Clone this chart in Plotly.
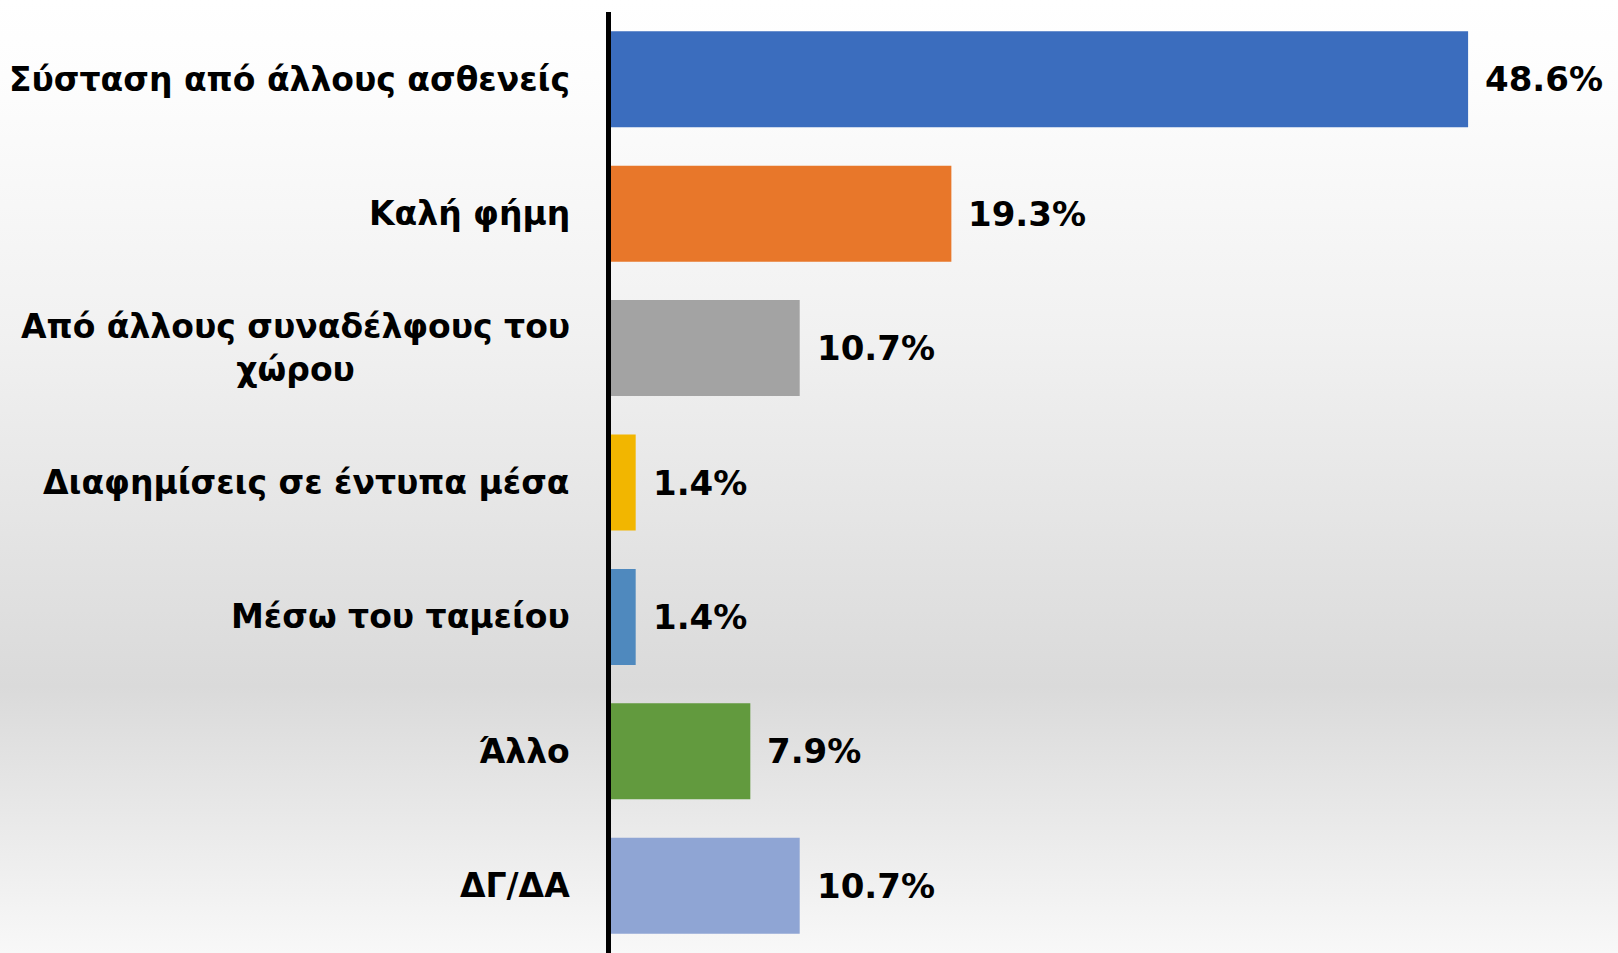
import base64
import plotly.graph_objects as go

categories = [
    "Σύσταση από άλλους ασθενείς",
    "Καλή φήμη",
    "Από άλλους συναδέλφους του<br>χώρου",
    "Διαφημίσεις σε έντυπα μέσα",
    "Μέσω του ταμείου",
    "Άλλο",
    "ΔΓ/ΔΑ",
]
values = [48.6, 19.3, 10.7, 1.4, 1.4, 7.9, 10.7]
value_labels = ["48.6%", "19.3%", "10.7%", "1.4%", "1.4%", "7.9%", "10.7%"]
bar_colors = ["#3B6DBE", "#E8772A", "#A3A3A3", "#F2B600", "#4F89BE", "#629A3E", "#8FA5D4"]

W, H = 1618, 953
ML, MR, MT, MB = 611, 0, 12, 0
PW, PH = W - ML - MR, H - MT - MB

FONT = "DejaVu Sans"

fig = go.Figure()
fig.add_trace(go.Bar(
    y=categories, x=values, orientation="h",
    marker=dict(color=bar_colors, line=dict(width=0)),
    hoverinfo="skip",
))

annotations = []
for c, v, t in zip(categories, values, value_labels):
    annotations.append(dict(
        x=v, y=c, xref="x", yref="y", text=t, showarrow=False,
        xanchor="left", yanchor="middle", xshift=15,
        font=dict(family=FONT, size=34, color="#000000", weight="bold"),
    ))
    annotations.append(dict(
        x=0, y=c, xref="x", yref="y", text=c, showarrow=False,
        xanchor="right", yanchor="middle", xshift=-39, align="center",
        font=dict(family=FONT, size=33, color="#000000", weight="bold"),
    ))

svg = f'''<svg xmlns="http://www.w3.org/2000/svg" width="{W}" height="{H}" preserveAspectRatio="none">
<defs><linearGradient id="g" x1="0" y1="0" x2="0" y2="1">
<stop offset="0" stop-color="#ffffff"/>
<stop offset="0.08" stop-color="#fdfdfd"/>
<stop offset="0.35" stop-color="#f1f1f1"/>
<stop offset="0.72" stop-color="#dadada"/>
<stop offset="1" stop-color="#f8f8f8"/>
</linearGradient></defs>
<rect x="0" y="0" width="{W}" height="{H}" fill="url(#g)"/>
</svg>'''
src = "data:image/svg+xml;base64," + base64.b64encode(svg.encode()).decode()

fig.update_layout(
    width=W, height=H,
    margin=dict(l=ML, r=MR, t=MT, b=MB, pad=0),
    paper_bgcolor="#ffffff", plot_bgcolor="rgba(0,0,0,0)",
    showlegend=False, bargap=0.286,
    annotations=annotations,
    images=[dict(source=src, xref="paper", yref="paper",
                 x=-ML / PW, y=1 + MT / PH, sizex=W / PW, sizey=H / PH,
                 xanchor="left", yanchor="top", sizing="stretch", layer="below")],
    xaxis=dict(range=[0, 57.1], visible=False, fixedrange=True),
    yaxis=dict(type="category", categoryorder="array", categoryarray=categories,
               range=[6.5, -0.5], showticklabels=False, showgrid=False, zeroline=False,
               showline=True, linecolor="#000000", linewidth=5, ticks="", fixedrange=True),
)

fig.write_html("out.html", config={"displayModeBar": False},
               post_script="document.body.style.margin='0';document.body.style.overflow='hidden';")
